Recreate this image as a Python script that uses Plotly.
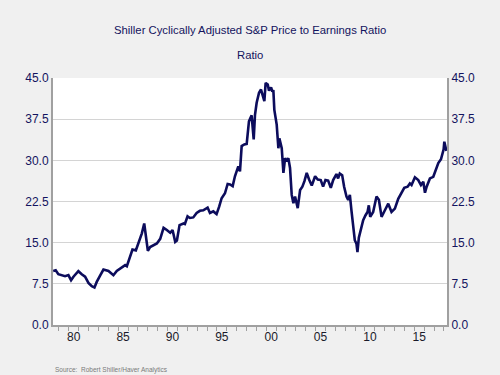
import plotly.graph_objects as go

# Decimal years and Shiller CAPE values
years = [1978.42, 1978.67, 1978.94, 1979.28, 1979.62, 1979.96, 1980.23, 1980.47, 1980.97,
         1981.31, 1981.65, 1981.99, 1982.33, 1982.60, 1982.83, 1983.17, 1983.51, 1984.02,
         1984.52, 1984.86, 1985.37, 1985.71, 1985.88, 1986.21, 1986.45, 1986.79, 1987.13,
         1987.40, 1987.64, 1987.84, 1988.01, 1988.24, 1988.58, 1988.92, 1989.26, 1989.60,
         1989.93, 1990.27, 1990.51, 1990.78, 1990.95, 1991.22, 1991.63, 1991.76, 1992.03,
         1992.27, 1992.61, 1992.95, 1993.28, 1993.62, 1994.06, 1994.30, 1994.64, 1994.97,
         1995.24, 1995.48, 1995.82, 1996.09, 1996.33, 1996.60, 1996.83, 1997.17, 1997.34,
         1997.51, 1997.78, 1998.02, 1998.25, 1998.52, 1998.73, 1998.86, 1999.03, 1999.27,
         1999.47, 1999.61, 1999.81, 1999.94, 2000.15, 2000.28, 2000.49, 2000.62, 2000.72,
         2000.82, 2001.06, 2001.23, 2001.33, 2001.57, 2001.74, 2001.91, 2002.08, 2002.24,
         2002.41, 2002.58, 2002.75, 2002.92, 2003.19, 2003.43, 2003.66, 2003.87, 2004.10,
         2004.34, 2004.61, 2004.95, 2005.22, 2005.52, 2005.76, 2006.00, 2006.27, 2006.54,
         2006.78, 2007.11, 2007.28, 2007.45, 2007.69, 2007.89, 2008.13, 2008.30, 2008.47,
         2008.63, 2008.80, 2008.97, 2009.14, 2009.24, 2009.38, 2009.58, 2009.82, 2010.06,
         2010.26, 2010.39, 2010.53, 2010.83, 2011.17, 2011.41, 2011.68, 2012.02, 2012.36,
         2012.69, 2013.03, 2013.37, 2013.71, 2013.98, 2014.32, 2014.55, 2014.72, 2015.06,
         2015.40, 2015.67, 2015.91, 2016.08, 2016.25, 2016.58, 2016.92, 2017.16, 2017.43,
         2017.70, 2017.85, 2017.97, 2018.04, 2018.16, 2018.25]
cape = [9.85, 9.97, 9.25, 9.07, 8.9, 9.1, 8.16, 8.8, 9.8,
        9.25, 8.8, 7.66, 7.06, 6.82, 7.85, 9.0, 10.1, 9.85,
        9.07, 9.85, 10.47, 10.9, 10.7, 12.7, 13.75, 13.6, 15.15,
        16.7, 18.5, 15.45, 13.5, 14.2, 14.5, 14.85, 15.7, 17.7,
        17.3, 16.8, 17.3, 15.15, 15.4, 18.2, 18.5, 18.4, 19.8,
        19.5, 19.6, 20.4, 20.8, 20.9, 21.4, 20.4, 20.7, 20.2,
        21.6, 23.1, 24.0, 25.7, 25.6, 25.3, 27.1, 28.9, 28.0,
        32.6, 32.9, 33.0, 37.1, 38.2, 33.8, 38.3, 40.5, 42.3,
        42.9, 42.0, 40.8, 44.1, 43.8, 42.7, 43.3, 42.5, 42.8,
        39.2, 36.5, 32.2, 34.0, 32.2, 27.7, 30.4, 29.8, 30.4,
        28.6, 23.7, 22.2, 23.4, 21.3, 24.6, 25.2, 26.2, 27.7,
        26.5, 25.4, 27.1, 26.5, 26.4, 25.2, 26.4, 26.3, 25.0,
        26.4, 27.5, 26.7, 27.6, 27.3, 25.2, 23.4, 22.8, 23.7,
        20.9, 17.9, 15.45, 14.8, 13.3, 15.9, 17.3, 19.1, 20.0,
        20.6, 21.8, 19.7, 20.6, 23.4, 22.8, 19.7, 20.9, 22.1,
        20.6, 21.2, 23.0, 24.0, 25.0, 25.2, 25.8, 25.5, 26.9,
        26.4, 25.5, 26.1, 24.1, 25.2, 26.7, 27.0, 28.2, 29.5,
        30.2, 31.3, 32.0, 33.4, 32.0, 31.7]

x_label_pos = [1980.5, 1985.5, 1990.5, 1995.5, 2000.5, 2005.5, 2010.5, 2015.5]
x_labels = ["80", "85", "90", "95", "00", "05", "10", "15"]
year_ticks = list(range(1979, 2019))
y_ticks = [0, 7.5, 15, 22.5, 30, 37.5, 45]
y_labels = ["0.0", "7.5", "15.0", "22.5", "30.0", "37.5", "45.0"]

navy = "#13135e"
font = "Liberation Sans, Arial, sans-serif"

W, H = 500, 375
ML, MR, MT, MB = 53, 53, 78, 50

fig = go.Figure()
fig.add_trace(go.Scatter(x=years, y=cape, mode="lines",
                         line=dict(color="#0c0c5c", width=2.6), showlegend=False,
                         hoverinfo="skip"))
fig.add_trace(go.Scatter(x=[years[0]], y=[cape[0]], yaxis="y2", mode="markers",
                         marker=dict(opacity=0), showlegend=False, hoverinfo="skip"))

plot_h = H - MT - MB
plot_w = W - ML - MR
def py(pix):
    return (H - MB - pix) / plot_h
def px(pix):
    return (pix - ML) / plot_w

fig.update_layout(
    width=W, height=H,
    paper_bgcolor="#f0f0f0", plot_bgcolor="#ffffff",
    margin=dict(l=ML, r=MR, t=MT, b=MB),
    font=dict(family=font, color=navy, size=12),
    xaxis=dict(range=[1978.4, 2018.31], tickmode="array", tickvals=x_label_pos,
               ticktext=x_labels, ticks="", showgrid=False, zeroline=False,
               showline=True, linecolor="#a0a0a0", linewidth=2,
               tickfont=dict(size=12, color="#1a1a2a"),
               minor=dict(tickmode="array", tickvals=year_ticks, ticks="outside",
                          ticklen=4, tickcolor="#a0a0a0", tickwidth=1, showgrid=False)),
    yaxis=dict(range=[0, 45], tickmode="array", tickvals=y_ticks, ticktext=y_labels,
               showgrid=True, gridcolor="#d4d4d4", gridwidth=1, zeroline=False,
               showline=True, linecolor="#a0a0a0", linewidth=2, ticks="",
               tickfont=dict(size=12, color=navy)),
    yaxis2=dict(range=[0, 45], overlaying="y", side="right", tickmode="array",
                tickvals=y_ticks, ticktext=y_labels, showgrid=False, zeroline=False,
                showline=True, linecolor="#a0a0a0", linewidth=2, ticks="",
                tickfont=dict(size=12, color=navy)),
    annotations=[
        dict(text="Shiller Cyclically Adjusted S&P Price to Earnings Ratio",
             xref="paper", yref="paper", x=0.5, y=py(30), yanchor="middle",
             showarrow=False, font=dict(size=11.3, color=navy)),
        dict(text="Ratio", xref="paper", yref="paper", x=0.5, y=py(55), yanchor="middle",
             showarrow=False, font=dict(size=11.3, color=navy)),
        dict(text="Source:  Robert Shiller/Haver Analytics", xref="paper", yref="paper",
             x=px(53), y=py(370), xanchor="left", yanchor="middle", showarrow=False,
             font=dict(size=6.5, color="#7a7a7a")),
    ],
)

fig.write_html("out.html", config={"displayModeBar": False},
               post_script="document.body.style.margin='0';")
